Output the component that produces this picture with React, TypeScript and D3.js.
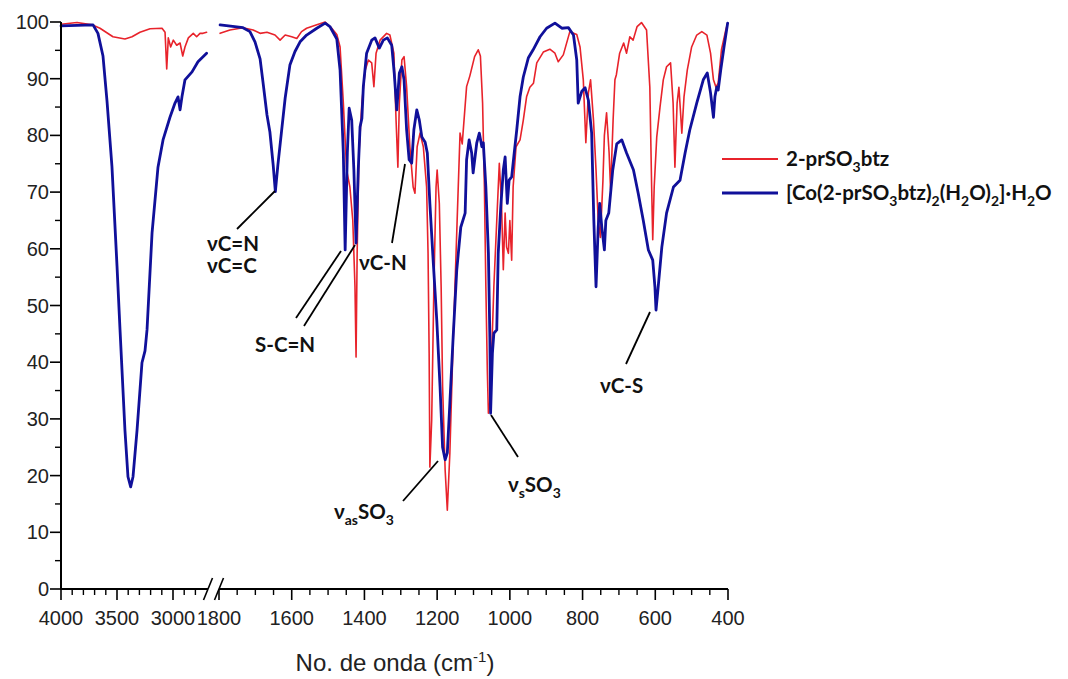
import React from "react";
import * as d3 from "d3";

// ---- data (wavenumber cm-1, transmittance %) ----
const redLeft: [number, number][] = [
  [4000, 99.6], [3857, 99.9], [3723, 99.5], [3652, 98.9], [3536, 97.4], [3429, 97], [3366, 97.4],
  [3295, 98.2], [3205, 98.8], [3098, 98.9], [3071, 98.2], [3056, 91.7], [3042, 97.2], [3021, 95.6],
  [2997, 96.8], [2967, 95.9], [2937, 96.3], [2913, 94], [2893, 95.6], [2863, 97.2], [2819, 98],
  [2789, 97.4], [2759, 98], [2732, 98], [2700, 98.2],
];
const blueLeft: [number, number][] = [
  [4000, 99.3], [3714, 99.5], [3670, 98], [3625, 94], [3589, 86], [3545, 74.5], [3500, 57],
  [3473, 45.7], [3429, 28], [3402, 19.8], [3378, 18], [3357, 19.8], [3321, 28], [3277, 39.9],
  [3250, 42], [3232, 45.7], [3187, 62.8], [3134, 74.4], [3089, 79.2], [3027, 83.2], [2982, 85.7],
  [2955, 86.8], [2937, 84.5], [2920, 86.8], [2893, 89.8], [2830, 91.2], [2777, 93], [2700, 94.5],
];
const redRight: [number, number][] = [
  [1797, 98], [1770, 98.6], [1734, 99], [1706, 98.6], [1687, 98], [1668, 98.2], [1646, 97.7],
  [1632, 96.8], [1618, 97.7], [1600, 97.4], [1586, 97.1], [1573, 98.3], [1559, 98.9], [1531, 99.5],
  [1508, 100], [1490, 98.9], [1476, 97.8], [1467, 95.6], [1458, 85.7], [1449, 73.9], [1440, 70.9],
  [1432, 65], [1426, 53.3], [1423, 40.9], [1420, 59.2], [1415, 76.9], [1407, 85.7], [1398, 91.5],
  [1389, 93.3], [1380, 92.8], [1374, 88.6], [1368, 94.5], [1357, 96.8], [1339, 98], [1330, 97.7],
  [1319, 94.5], [1313, 82.7], [1308, 74.4], [1304, 85.7], [1297, 93.3], [1291, 93.9], [1284, 88.6],
  [1275, 78], [1266, 70.9], [1261, 69.8], [1255, 78], [1247, 80.4], [1238, 78], [1229, 70.9],
  [1225, 59.2], [1222, 41.6], [1220, 21.5], [1215, 29.8], [1209, 53.3], [1203, 70.9], [1200, 73.9],
  [1194, 68], [1189, 53.3], [1185, 35.7], [1178, 21], [1172, 13.9], [1165, 24], [1157, 41.6],
  [1151, 53.3], [1145, 65], [1137, 80.4], [1131, 78.5], [1119, 88.6], [1110, 90.5], [1097, 93.9],
  [1087, 95.1], [1081, 94], [1075, 85.7], [1070, 70.9], [1066, 53.3], [1062, 38.6], [1059, 31],
  [1055, 32.8], [1050, 41.6], [1044, 53.3], [1036, 65], [1029, 75.1], [1023, 68], [1018, 56.3],
  [1013, 66.3], [1009, 60.3], [1004, 59.2], [1000, 65], [995, 58], [991, 70.9], [983, 78],
  [972, 79.2], [963, 82.7], [954, 86.8], [945, 88.5], [935, 89.2], [926, 92.8], [908, 94.7],
  [890, 95.2], [876, 94.5], [867, 93], [853, 94.2], [835, 98.3], [816, 97.8], [807, 95.6],
  [798, 89.8], [791, 78.7], [784, 87.5], [778, 89.8], [770, 82.7], [763, 73.9], [757, 65],
  [751, 62], [744, 72], [740, 80], [734, 84], [727, 76.9], [723, 70.4], [716, 82.7], [711, 89.8],
  [707, 90.7], [698, 94.5], [687, 96.3], [679, 94.5], [670, 97.4], [661, 96.8], [650, 99.2],
  [638, 99.9], [624, 98.6], [615, 88.5], [610, 70.9], [607, 61.6], [603, 70.9], [596, 79.7],
  [587, 85], [578, 89.8], [569, 92.1], [558, 92.8], [551, 85.7], [546, 74.4], [540, 85.7],
  [535, 88.5], [531, 84.5], [527, 80.4], [521, 86.8], [512, 91.5], [500, 95.6], [486, 97.7],
  [472, 98.3], [458, 97.7], [448, 94.5], [440, 89.8], [433, 88.5], [427, 89.2], [418, 95.1],
  [406, 98.6], [401, 99.8],
];
const blueRight: [number, number][] = [
  [1797, 99.5], [1734, 99], [1715, 98.3], [1701, 96.5], [1687, 93.5], [1679, 89.4], [1668, 83.6],
  [1660, 80.6], [1651, 74.8], [1645, 70.1], [1638, 74.8], [1628, 80.7], [1618, 86.6], [1605, 92.4],
  [1591, 94.8], [1577, 96.5], [1559, 97.7], [1531, 98.9], [1508, 99.8], [1495, 99.2], [1476, 97],
  [1467, 91.5], [1458, 76.9], [1453, 59.8], [1447, 76.9], [1442, 84.8], [1435, 82.7], [1429, 73.9],
  [1423, 61], [1417, 73.9], [1412, 81.5], [1407, 83], [1403, 88.6], [1394, 94.5], [1380, 96.8],
  [1371, 97.2], [1359, 95.4], [1348, 96.8], [1337, 97.2], [1325, 95.9], [1318, 91], [1311, 84.5],
  [1304, 91], [1297, 92.1], [1291, 89.8], [1284, 81], [1277, 75.7], [1270, 75.1], [1264, 81],
  [1256, 84.5], [1249, 82.7], [1242, 79.7], [1233, 78.8], [1227, 76.9], [1220, 68], [1211, 58],
  [1201, 47.4], [1192, 35.7], [1185, 25], [1178, 22.8], [1172, 24], [1165, 32.8], [1156, 44.4],
  [1146, 56.3], [1135, 63.8], [1123, 66.3], [1119, 75.7], [1112, 79.2], [1105, 76.9], [1101, 73.4],
  [1091, 78.7], [1084, 80.4], [1077, 78], [1073, 78.7], [1066, 70.9], [1059, 59.2], [1055, 44.4],
  [1053, 31], [1048, 41.6], [1044, 45.1], [1036, 45.7], [1032, 59.2], [1025, 67.4], [1018, 73.9],
  [1013, 76.2], [1007, 68], [1002, 72.1], [995, 72.7], [988, 76.9], [981, 81], [972, 86.8],
  [963, 90.3], [949, 93.7], [936, 95.1], [917, 97.4], [899, 98.9], [876, 99.8], [857, 98.9],
  [839, 99], [825, 97.7], [816, 93.3], [812, 85.7], [802, 87.8], [793, 88.4], [784, 86.2],
  [775, 80.4], [769, 65], [763, 53.3], [757, 63.8], [753, 68], [747, 63.8], [740, 59.8], [736, 65],
  [728, 66.3], [717, 73.9], [706, 78.5], [692, 79.2], [679, 76.9], [660, 73.9], [647, 69.8],
  [633, 65], [619, 59.8], [607, 58], [601, 53.3], [598, 49.2], [592, 53.3], [582, 60.3],
  [569, 66.3], [550, 70.9], [532, 72.1], [518, 76.9], [505, 81], [486, 85.7], [468, 89.8],
  [457, 91], [448, 87.5], [440, 83.2], [436, 86.8], [431, 88.5], [427, 88], [420, 91.5],
  [411, 95.6], [401, 99.8],
];

const yTicks = [0, 10, 20, 30, 40, 50, 60, 70, 80, 90, 100];
const yMinor = [5, 15, 25, 35, 45, 55, 65, 75, 85, 95];
const xLeftTicks = [4000, 3500, 3000];
const xLeftMinor = [3900, 3800, 3700, 3600, 3400, 3300, 3200, 3100, 2900, 2800];
const xRightTicks = [1800, 1600, 1400, 1200, 1000, 800, 600, 400];
const xRightMinor = [1750, 1700, 1650, 1550, 1500, 1450, 1350, 1300, 1250, 1150, 1100, 1050, 950, 900, 850, 750, 700, 650, 550, 500, 450];

const seriesNames = ["2-prSO3btz", "[Co(2-prSO3btz)2(H2O)2]·H2O"];

const RED = "#e8232b";
const BLUE = "#10109a";
const TICKFONT = "'Liberation Sans', Arial, sans-serif";
const BOLDFONT = "Lato, 'Open Sans', sans-serif";

type Seg = { t: string; sub?: boolean };

function RichText({ x, y, segs, size, anchor }: { x: number; y: number; segs: Seg[]; size: number; anchor?: string }) {
  let cur = 0;
  const shift = size * 0.28;
  return (
    <text x={x} y={y} fontFamily={BOLDFONT} fontWeight={700} fontSize={size} fill="#111" textAnchor={anchor || "start"}>
      {segs.map((s, i) => {
        const target = s.sub ? shift : 0;
        const dy = target - cur;
        cur = target;
        return (
          <tspan key={i} dy={dy} fontSize={s.sub ? size * 0.68 : size}>
            {s.t}
          </tspan>
        );
      })}
    </text>
  );
}

export default function App() {
  const y = d3.scaleLinear().domain([0, 100]).range([589, 22]);
  const xL = d3.scaleLinear().domain([4000, 2700]).range([61, 206.6]);
  const xR = d3.scaleLinear().domain([1800, 400]).range([219, 728]);
  const lineL = d3.line<[number, number]>().x((d) => xL(d[0])).y((d) => y(d[1]));
  const lineR = d3.line<[number, number]>().x((d) => xR(d[0])).y((d) => y(d[1]));
  const x0 = 61;
  const y0 = y(0);

  const leaders: [number, number, number, number][] = [
    [237, 229, 275, 191],
    [296, 318, 341, 251],
    [304, 326, 355, 245],
    [392, 243, 405, 164],
    [403, 501, 438, 461],
    [518, 457, 491, 415],
    [626, 364, 650, 312],
  ];

  const fs = 20.5;

  return (
    <svg width={1068} height={679} style={{ position: "absolute", left: 0, top: 0, background: "#fff" }}>
      {/* spectra */}
      <g fill="none" strokeLinejoin="round" strokeLinecap="round">
        <path d={lineL(redLeft) || ""} stroke={RED} strokeWidth={1.6} />
        <path d={lineL(blueLeft) || ""} stroke={BLUE} strokeWidth={2.8} />
        <path d={lineR(redRight) || ""} stroke={RED} strokeWidth={1.6} />
        <path d={lineR(blueRight) || ""} stroke={BLUE} strokeWidth={2.8} />
      </g>

      {/* y axis */}
      <g stroke="#000">
        <line x1={x0} x2={x0} y1={y(100)} y2={y0 + 1} strokeWidth={2} />
        {yTicks.map((t) => (
          <line key={t} x1={x0 - 11} x2={x0} y1={y(t)} y2={y(t)} strokeWidth={1.6} />
        ))}
        {yMinor.map((t) => (
          <line key={t} x1={x0 - 6} x2={x0} y1={y(t)} y2={y(t)} strokeWidth={1.4} />
        ))}
      </g>
      <g fontFamily={TICKFONT} fontSize={20} fill="#222" textAnchor="end">
        {yTicks.map((t) => (
          <text key={t} x={x0 - 12} y={y(t) + 7}>
            {t}
          </text>
        ))}
      </g>

      {/* x axis */}
      <g stroke="#000">
        <line x1={x0} x2={208} y1={y0} y2={y0} strokeWidth={2} />
        <line x1={219} x2={xR(400)} y1={y0} y2={y0} strokeWidth={2} />
        <line x1={203.5} x2={212.5} y1={y0 + 11} y2={y0 - 11} strokeWidth={1.6} />
        <line x1={214.5} x2={223.5} y1={y0 + 11} y2={y0 - 11} strokeWidth={1.6} />
        {xLeftTicks.map((t) => (
          <line key={t} x1={xL(t)} x2={xL(t)} y1={y0} y2={y0 + 11} strokeWidth={1.6} />
        ))}
        {xLeftMinor.map((t) => (
          <line key={t} x1={xL(t)} x2={xL(t)} y1={y0} y2={y0 + 6} strokeWidth={1.4} />
        ))}
        {xRightTicks.map((t) => (
          <line key={t} x1={xR(t)} x2={xR(t)} y1={y0} y2={y0 + 11} strokeWidth={1.6} />
        ))}
        {xRightMinor.map((t) => (
          <line key={t} x1={xR(t)} x2={xR(t)} y1={y0} y2={y0 + 6} strokeWidth={1.4} />
        ))}
      </g>
      <g fontFamily={TICKFONT} fontSize={20} fill="#222" textAnchor="middle">
        {xLeftTicks.map((t) => (
          <text key={t} x={xL(t)} y={625}>
            {t}
          </text>
        ))}
        {xRightTicks.map((t) => (
          <text key={t} x={xR(t)} y={625}>
            {t}
          </text>
        ))}
      </g>
      <text x={395} y={671} fontFamily={TICKFONT} fontSize={24} fill="#222" textAnchor="middle">
        No. de onda (cm
        <tspan dy={-9} fontSize={15}>-1</tspan>
        <tspan dy={9}>)</tspan>
      </text>

      {/* annotations */}
      <g stroke="#000" strokeWidth={1.8}>
        {leaders.map((l, i) => (
          <line key={i} x1={l[0]} y1={l[1]} x2={l[2]} y2={l[3]} />
        ))}
      </g>
      <RichText x={207} y={251} size={fs} segs={[{ t: "νC=N" }]} />
      <RichText x={207} y={273} size={fs} segs={[{ t: "νC=C" }]} />
      <RichText x={255} y={352} size={fs} segs={[{ t: "S-C=N" }]} />
      <RichText x={359} y={270} size={fs} segs={[{ t: "νC-N" }]} />
      <RichText x={334} y={519} size={fs} segs={[{ t: "ν" }, { t: "as", sub: true }, { t: "SO" }, { t: "3", sub: true }]} />
      <RichText x={508} y={492} size={fs} segs={[{ t: "ν" }, { t: "s", sub: true }, { t: "SO" }, { t: "3", sub: true }]} />
      <RichText x={600} y={393} size={fs} segs={[{ t: "νC-S" }]} />

      {/* legend */}
      <line x1={722} x2={778} y1={159} y2={159} stroke={RED} strokeWidth={2} />
      <line x1={722} x2={778} y1={193} y2={193} stroke={BLUE} strokeWidth={3} />
      <RichText x={786} y={166} size={fs} segs={[{ t: "2-prSO" }, { t: "3", sub: true }, { t: "btz" }]} />
      <RichText
        x={786}
        y={200}
        size={fs}
        segs={[
          { t: "[Co(2-prSO" }, { t: "3", sub: true }, { t: "btz)" }, { t: "2", sub: true },
          { t: "(H" }, { t: "2", sub: true }, { t: "O)" }, { t: "2", sub: true }, { t: "]·H" },
          { t: "2", sub: true }, { t: "O" },
        ]}
      />
      <title>{seriesNames.join(" / ")}</title>
    </svg>
  );
}
